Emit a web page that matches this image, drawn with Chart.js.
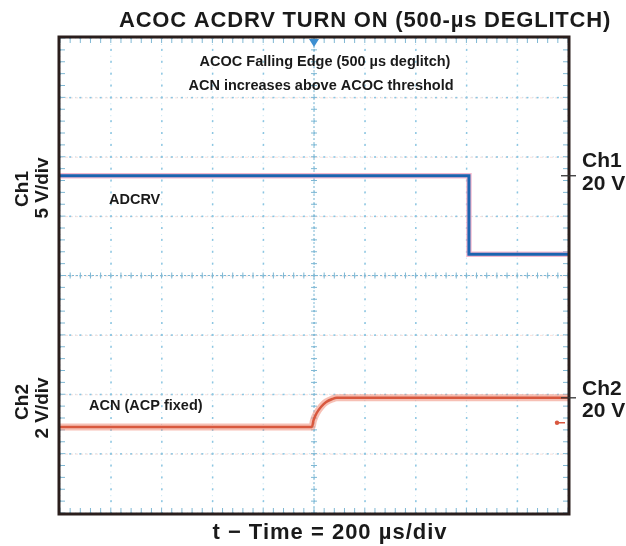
<!DOCTYPE html>
<html>
<head>
<meta charset="utf-8">
<script src="https://cdn.jsdelivr.net/npm/chart.js@4/dist/chart.umd.min.js"></script>
<style>
html,body{margin:0;padding:0;background:#fff;}
#wrap{position:relative;width:626px;height:546px;}
canvas{display:block;}
</style>
</head>
<body>
<div id="wrap"><canvas id="c" width="626" height="546"></canvas></div>
<script>
// ---- data (time in µs, level in screen divisions from centre) ----
const xDivTicks = [-1000,-800,-600,-400,-200,0,200,400,600,800,1000];
const yDivTicks = [-4,-3,-2,-1,0,1,2,3,4];
const adcrvTime = [-1000, 610, 610, 1000];
const adcrvLevel = [1.68, 1.68, 0.36, 0.36];
const acnTime = [-1000, -8, -2, 10, 28, 48, 72, 90, 1000];
const acnLevel = [-2.55, -2.55, -2.44, -2.32, -2.21, -2.13, -2.08, -2.06, -2.06];
const ch1RefLevel = 1.68;   // Ch1 marker on right edge
const ch2RefLevel = -2.06;  // Ch2 marker on right edge
const ch2GroundLevel = -2.48;

const FONT = '"Liberation Sans", Arial, Helvetica, sans-serif';
const pts = (xs, ys) => xs.map((x, i) => ({x: x, y: ys[i]}));

const scopePlugin = {
  id: 'scope',
  beforeDraw(chart) {
    const ctx = chart.ctx;
    ctx.save();
    ctx.fillStyle = '#fff';
    ctx.fillRect(0, 0, chart.width, chart.height);
    ctx.restore();
  },
  beforeDatasetsDraw(chart) {
    const {ctx, chartArea: a, scales: {x, y}} = chart;
    ctx.save();
    const xs = xDivTicks.map(v => x.getPixelForValue(v));
    const ys = yDivTicks.map(v => y.getPixelForValue(v));
    const dx = (xs[1] - xs[0]) / 5, dy = (ys[0] - ys[1]) / 5;
    // faint pink dashes along horizontal grid rows
    ctx.strokeStyle = 'rgba(240,180,170,0.4)';
    ctx.lineWidth = 1;
    ctx.setLineDash([3, 2]);
    ys.forEach((py, i) => {
      if (i === 0 || i === ys.length - 1) return;
      ctx.beginPath(); ctx.moveTo(a.left, py + 0.5); ctx.lineTo(a.right, py + 0.5); ctx.stroke();
    });
    ctx.setLineDash([]);
    // dotted grid (dots at every minor division)
    ctx.fillStyle = '#8cc6e2';
    xs.forEach(px => {
      for (let py = a.top; py <= a.bottom; py += dy) ctx.fillRect(px - 0.5, py - 1, 1.5, 2);
    });
    ys.forEach(py => {
      for (let px = a.left; px <= a.right; px += dx) ctx.fillRect(px - 1, py - 0.5, 2, 1.5);
    });
    ctx.fillStyle = 'rgba(140,198,226,0.55)';
    xs.forEach(px => {
      for (let py = a.top; py <= a.bottom; py += dy / 2) ctx.fillRect(px - 0.5, py, 1, 1);
    });
    ys.forEach(py => {
      for (let px = a.left; px <= a.right; px += dx / 2) ctx.fillRect(px, py - 0.5, 1, 1);
    });
    // centre cross with minor ticks
    const cx = x.getPixelForValue(0), cy = y.getPixelForValue(0);
    ctx.strokeStyle = '#7fb8d4';
    ctx.lineWidth = 1;
    ctx.setLineDash([2, 2]);
    ctx.beginPath();
    ctx.moveTo(cx, a.top); ctx.lineTo(cx, a.bottom);
    ctx.moveTo(a.left, cy); ctx.lineTo(a.right, cy);
    ctx.stroke();
    ctx.setLineDash([]);
    ctx.beginPath();
    for (let py = a.top; py <= a.bottom + 0.1; py += dy) { ctx.moveTo(cx - 3, py); ctx.lineTo(cx + 3, py); }
    for (let px = a.left; px <= a.right + 0.1; px += dx) { ctx.moveTo(px, cy - 3); ctx.lineTo(px, cy + 3); }
    for (let px = a.left; px <= a.right + 0.1; px += dx) {
      ctx.moveTo(px, a.top); ctx.lineTo(px, a.top + 5);
      ctx.moveTo(px, a.bottom); ctx.lineTo(px, a.bottom - 5);
    }
    for (let py = a.top; py <= a.bottom + 0.1; py += dy) {
      ctx.moveTo(a.left, py); ctx.lineTo(a.left + 5, py);
      ctx.moveTo(a.right, py); ctx.lineTo(a.right - 5, py);
    }
    ctx.stroke();
    ctx.restore();
  },
  afterDatasetsDraw(chart) {
    const {ctx, chartArea: a, scales: {x, y}} = chart;
    ctx.save();
    ctx.strokeStyle = '#2a1e1c';
    ctx.lineWidth = 3;
    ctx.strokeRect(a.left - 1, a.top - 1, a.right - a.left + 2, a.bottom - a.top + 2);
    const cx = x.getPixelForValue(0);
    ctx.fillStyle = '#3d8fd1';
    ctx.beginPath();
    ctx.moveTo(cx - 5, a.top + 1); ctx.lineTo(cx + 5, a.top + 1); ctx.lineTo(cx, a.top + 9); ctx.closePath();
    ctx.fill();
    ctx.strokeStyle = '#333';
    ctx.lineWidth = 1.3;
    [ch1RefLevel, ch2RefLevel].forEach(v => {
      const py = y.getPixelForValue(v);
      ctx.beginPath(); ctx.moveTo(a.right - 7, py); ctx.lineTo(a.right + 8, py); ctx.stroke();
    });
    const gy = y.getPixelForValue(ch2GroundLevel);
    ctx.strokeStyle = '#d9573f'; ctx.fillStyle = '#d9573f'; ctx.lineWidth = 1.5;
    ctx.beginPath(); ctx.moveTo(a.right - 3, gy); ctx.lineTo(a.right - 11, gy); ctx.stroke();
    ctx.beginPath(); ctx.arc(a.right - 11, gy, 2.2, 0, Math.PI * 2); ctx.fill();
    ctx.restore();
  },
  afterDraw(chart) {
    const ctx = chart.ctx;
    ctx.save();
    ctx.fillStyle = '#1a1a1a';
    ctx.textBaseline = 'alphabetic';
    ctx.textAlign = 'center';
    ctx.font = 'bold 22px ' + FONT;
    ctx.letterSpacing = '0.8px';
    ctx.fillText('ACOC ACDRV TURN ON (500-µs DEGLITCH)', 365, 27);
    ctx.letterSpacing = '1px';
    ctx.fillText('t − Time = 200 µs/div', 330, 539);
    ctx.letterSpacing = '0px';
    ctx.font = 'bold 14.5px ' + FONT;
    ctx.fillText('ACOC Falling Edge (500 µs deglitch)', 325, 66);
    ctx.fillText('ACN increases above ACOC threshold', 321, 90);
    ctx.textAlign = 'left';
    ctx.fillText('ADCRV', 109, 204);
    ctx.fillText('ACN (ACP fixed)', 89, 410);
    ctx.font = 'bold 21px ' + FONT;
    ctx.fillText('Ch1', 582, 167);
    ctx.fillText('20 V', 582, 190);
    ctx.fillText('Ch2', 582, 395);
    ctx.fillText('20 V', 582, 417);
    ctx.textAlign = 'center';
    ctx.font = 'bold 19px ' + FONT;
    const rot = (txt, px, py) => {
      ctx.save(); ctx.translate(px, py); ctx.rotate(-Math.PI / 2); ctx.fillText(txt, 0, 0); ctx.restore();
    };
    rot('Ch1', 28, 189);
    rot('5 V/div', 48, 188);
    rot('Ch2', 28, 402);
    rot('2 V/div', 48, 408);
    ctx.restore();
  }
};

new Chart(document.getElementById('c'), {
  type: 'scatter',
  data: {
    datasets: [
      {label: 'ADCRV', order: 1, data: pts(adcrvTime, adcrvLevel), showLine: true, borderColor: '#1a64b0', borderWidth: 3, pointRadius: 0, fill: false, tension: 0},
      {label: 'ACN', order: 1, data: pts(acnTime, acnLevel), showLine: true, borderColor: '#d8583e', borderWidth: 2.5, pointRadius: 0, fill: false, cubicInterpolationMode: 'monotone'},
      {label: 'ADCRV halo', order: 2, data: pts(adcrvTime, adcrvLevel), showLine: true, borderColor: 'rgba(240,160,190,0.75)', borderWidth: 5.5, pointRadius: 0, fill: false, tension: 0},
      {label: 'ACN halo', order: 2, data: pts(acnTime, acnLevel), showLine: true, borderColor: 'rgba(238,140,120,0.55)', borderWidth: 7, pointRadius: 0, fill: false, cubicInterpolationMode: 'monotone'}
    ]
  },
  options: {
    responsive: false,
    animation: false,
    devicePixelRatio: 1,
    layout: {padding: {left: 60, right: 58, top: 38, bottom: 33}},
    plugins: {legend: {display: false}, tooltip: {enabled: false}, title: {display: false}},
    scales: {
      x: {type: 'linear', min: -1000, max: 1000, display: false},
      y: {type: 'linear', min: -4, max: 4, display: false}
    }
  },
  plugins: [scopePlugin]
});
</script>
</body>
</html>
